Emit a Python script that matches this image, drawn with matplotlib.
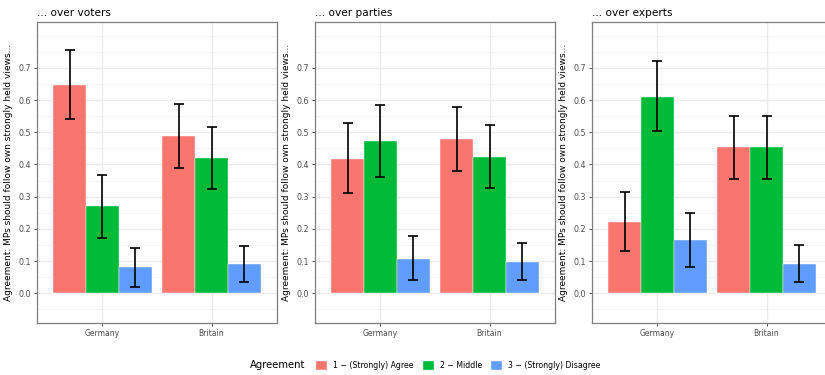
import numpy as np
import matplotlib
matplotlib.use("Agg")
import matplotlib.pyplot as plt
from matplotlib.patches import Patch

panels = ["... over voters", "... over parties", "... over experts"]
countries = ["Germany", "Britain"]
groups = ["1 \u2212 (Strongly) Agree", "2 \u2212 Middle", "3 \u2212 (Strongly) Disagree"]
colors = ["#F8766D", "#00BA38", "#619CFF"]

# values[panel][group][country]
voters_mean = [[0.648, 0.488], [0.270, 0.420], [0.080, 0.090]]
voters_lo = [[0.542, 0.390], [0.171, 0.323], [0.020, 0.034]]
voters_hi = [[0.755, 0.587], [0.368, 0.517], [0.141, 0.146]]

parties_mean = [[0.418, 0.478], [0.472, 0.423], [0.107, 0.097]]
parties_lo = [[0.310, 0.380], [0.362, 0.326], [0.040, 0.040]]
parties_hi = [[0.528, 0.577], [0.584, 0.521], [0.177, 0.157]]

experts_mean = [[0.222, 0.453], [0.610, 0.453], [0.166, 0.092]]
experts_lo = [[0.130, 0.355], [0.503, 0.355], [0.083, 0.035]]
experts_hi = [[0.314, 0.552], [0.720, 0.552], [0.250, 0.150]]

means = [voters_mean, parties_mean, experts_mean]
los = [voters_lo, parties_lo, experts_lo]
his = [voters_hi, parties_hi, experts_hi]

yticks = [0.0, 0.1, 0.2, 0.3, 0.4, 0.5, 0.6, 0.7]
ylabel = "Agreement: MPs should follow own strongly held views..."

W, H = 825, 375
fig = plt.figure(figsize=(W / 100, H / 100), dpi=100)
lefts = [37, 315, 592]
for p in range(3):
    ax = fig.add_axes([lefts[p] / W, 52 / H, 240 / W, 301 / H])
    x = np.arange(1, len(countries) + 1)
    bw = 0.3
    for g in range(3):
        xs = x + (g - 1) * bw
        m = np.array(means[p][g])
        lo = np.array(los[p][g])
        hi = np.array(his[p][g])
        ax.bar(xs, m, width=bw, color=colors[g], edgecolor="white", linewidth=0.3, zorder=2)
        ax.errorbar(xs, m, yerr=[m - lo, hi - m], fmt="none", ecolor="black",
                    elinewidth=1.2, capsize=3.9, capthick=1.2, zorder=3)
    ax.set_xlim(0.4, 2.6)
    ax.set_ylim(-0.0925, 0.8425)
    ax.set_yticks(yticks)
    ax.set_yticklabels([f"{t:.1f}" for t in yticks], fontsize=5.8, color="#4D4D4D")
    ax.set_xticks(x)
    ax.set_xticklabels(countries, fontsize=5.5, color="#4D4D4D")
    minor = [-0.05] + [t + 0.05 for t in yticks] + [0.8]
    for mv in minor:
        ax.axhline(mv, color="#F2F2F2", linewidth=0.6, zorder=0)
    for t in yticks:
        ax.axhline(t, color="#EBEBEB", linewidth=1.0, zorder=0)
    for xv in x:
        ax.axvline(xv, color="#EBEBEB", linewidth=1.0, zorder=0)
    ax.tick_params(axis="both", length=2.5, width=0.6, color="#333333", pad=2)
    for s in ax.spines.values():
        s.set_color("#7F7F7F")
        s.set_linewidth(0.9)
    ax.set_ylabel(ylabel, fontsize=6.5, color="black", labelpad=4)
    ax.set_title(panels[p], loc="left", fontsize=7.6, pad=4)

handles = [Patch(facecolor=c, edgecolor="white") for c in colors]
fig.text(305 / W, 1 - 365 / H, "Agreement", fontsize=7.2, va="center", ha="right")
fig.legend(handles, groups, loc="center left", bbox_to_anchor=(315 / W, 1 - 365 / H),
           ncol=3, frameon=False, fontsize=5.6, handlelength=1.6, handleheight=1.6,
           columnspacing=1.0, handletextpad=0.75, borderpad=0, borderaxespad=0)

fig.savefig("out.png", dpi=100)
